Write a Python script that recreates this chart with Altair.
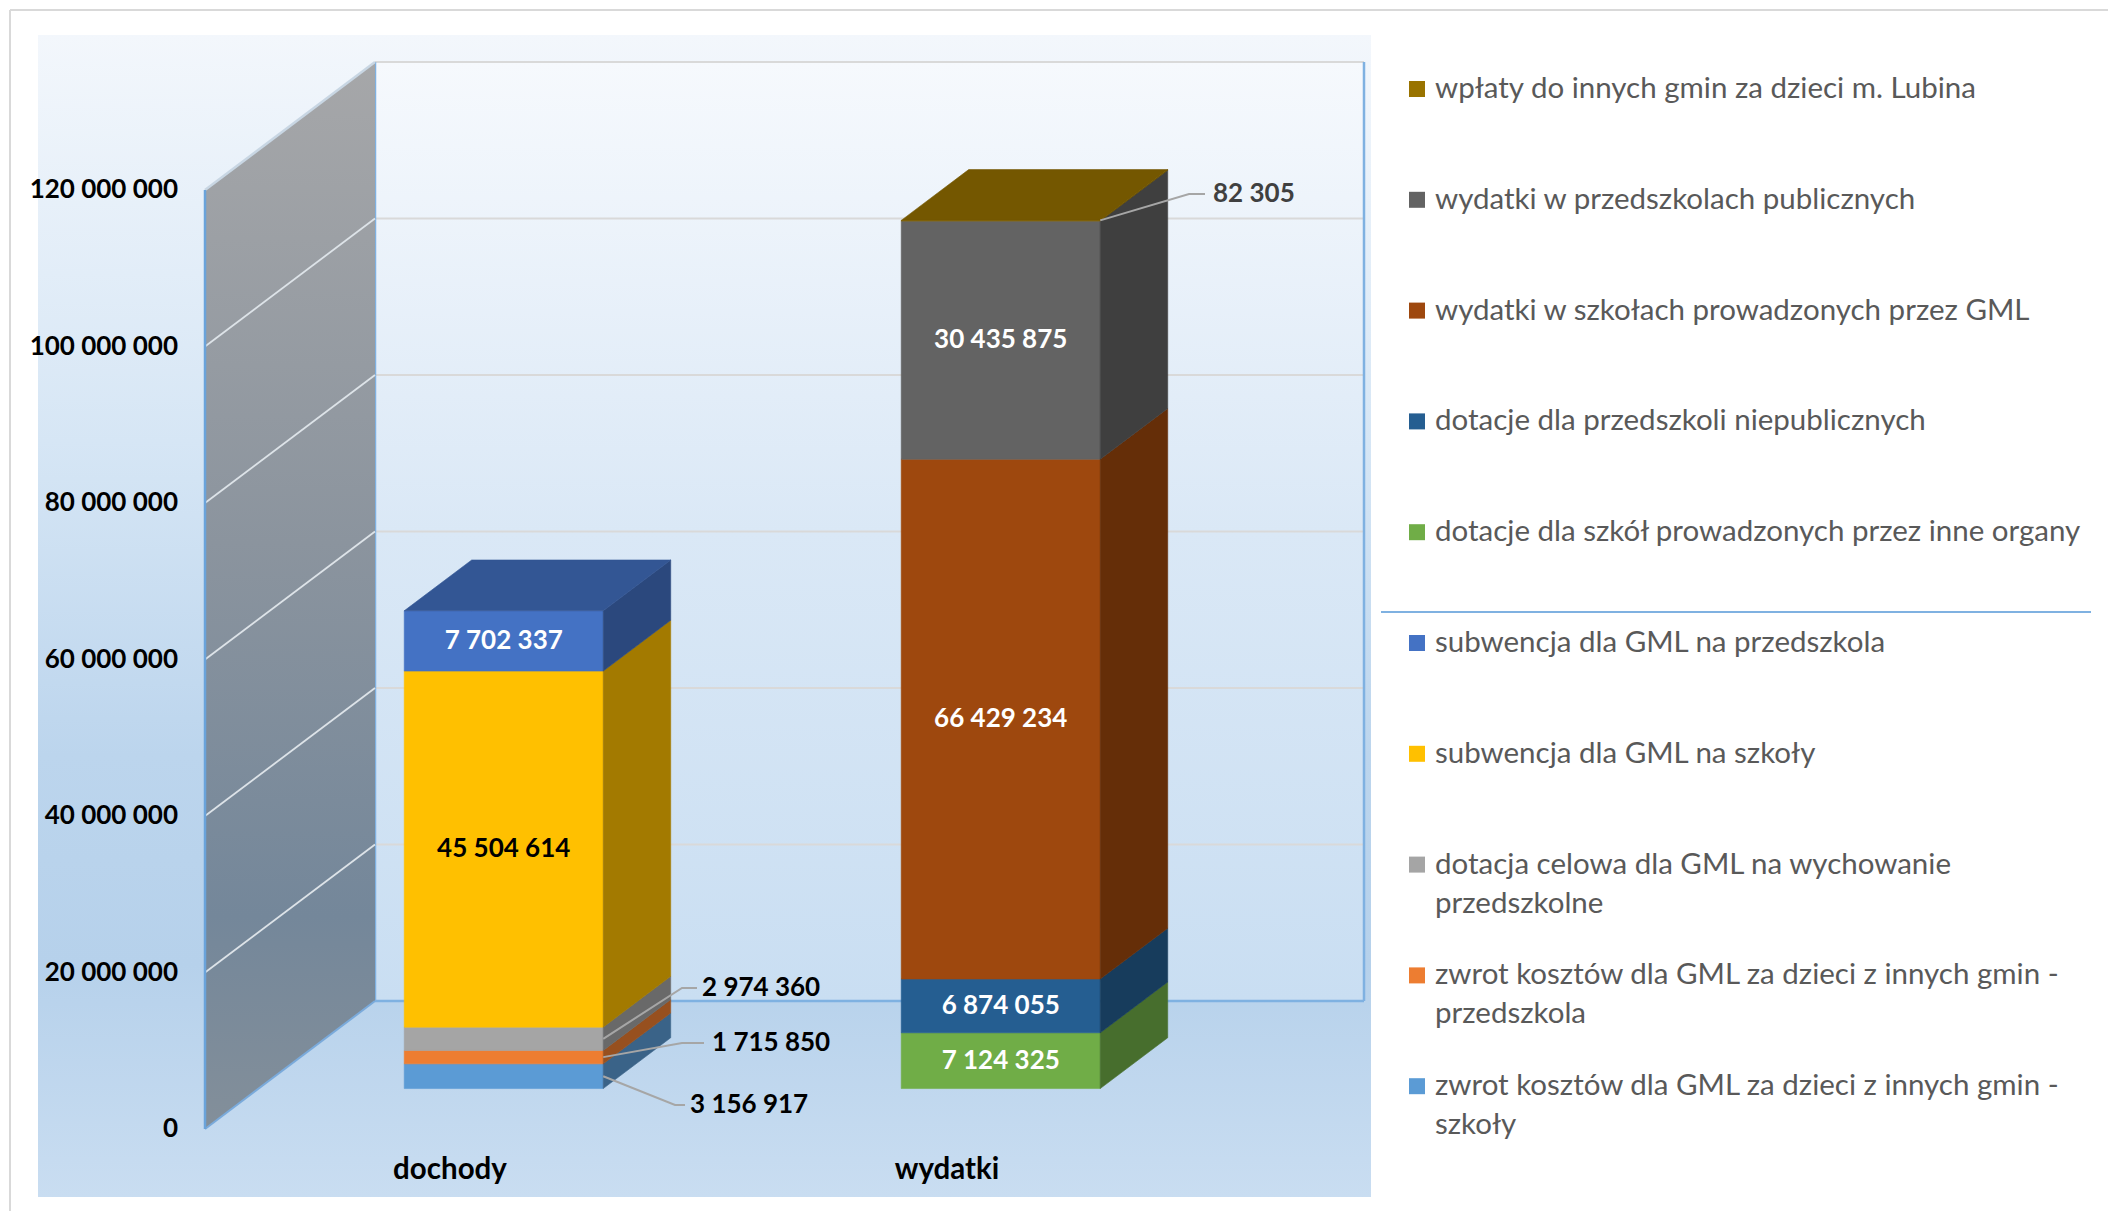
import altair as alt
import pandas as pd

# ---------------- data ----------------
categories = ["dochody", "wydatki"]

dochody_series = [
    "zwrot kosztów dla GML za dzieci z innych gmin - szkoły",
    "zwrot kosztów dla GML za dzieci z innych gmin - przedszkola",
    "dotacja celowa dla GML na wychowanie przedszkolne",
    "subwencja dla GML na szkoły",
    "subwencja dla GML na przedszkola",
]
dochody_values = [3156917, 1715850, 2974360, 45504614, 7702337]

wydatki_series = [
    "dotacje dla szkół prowadzonych przez inne organy",
    "dotacje dla przedszkoli niepublicznych",
    "wydatki w szkołach prowadzonych przez GML",
    "wydatki w przedszkolach publicznych",
    "wpłaty do innych gmin za dzieci m. Lubina",
]
wydatki_values = [7124325, 6874055, 66429234, 30435875, 82305]

series_colors = {
    "zwrot kosztów dla GML za dzieci z innych gmin - szkoły": "#5B9BD5",
    "zwrot kosztów dla GML za dzieci z innych gmin - przedszkola": "#ED7D31",
    "dotacja celowa dla GML na wychowanie przedszkolne": "#A5A5A5",
    "subwencja dla GML na szkoły": "#FFC000",
    "subwencja dla GML na przedszkola": "#4472C4",
    "dotacje dla szkół prowadzonych przez inne organy": "#70AD47",
    "dotacje dla przedszkoli niepublicznych": "#255E91",
    "wydatki w szkołach prowadzonych przez GML": "#9E480E",
    "wydatki w przedszkolach publicznych": "#636363",
    "wpłaty do innych gmin za dzieci m. Lubina": "#997300",
}

legend_text = {
    "dotacja celowa dla GML na wychowanie przedszkolne": "dotacja celowa dla GML na wychowanie\nprzedszkolne",
    "zwrot kosztów dla GML za dzieci z innych gmin - przedszkola": "zwrot kosztów dla GML za dzieci z innych gmin -\nprzedszkola",
    "zwrot kosztów dla GML za dzieci z innych gmin - szkoły": "zwrot kosztów dla GML za dzieci z innych gmin -\nszkoły",
}

y_ticks = [0, 20000000, 40000000, 60000000, 80000000, 100000000, 120000000]

# label colour for values drawn on the bar face
inside_label_color = {
    "subwencja dla GML na przedszkola": "#FFFFFF",
    "subwencja dla GML na szkoły": "#000000",
    "dotacje dla szkół prowadzonych przez inne organy": "#FFFFFF",
    "dotacje dla przedszkoli niepublicznych": "#FFFFFF",
    "wydatki w szkołach prowadzonych przez GML": "#FFFFFF",
    "wydatki w przedszkolach publicznych": "#FFFFFF",
}
# labels placed outside with leader lines: (elbow x, end x, text x, text y) in page px
outside_labels = {
    "dotacja celowa dla GML na wychowanie przedszkolne": (682, 697, 702, 987, "#000000", "mid"),
    "zwrot kosztów dla GML za dzieci z innych gmin - przedszkola": (682, 704, 712, 1042, "#000000", "mid"),
    "zwrot kosztów dla GML za dzieci z innych gmin - szkoły": (675, 685, 690, 1104, "#000000", "mid"),
    "wpłaty do innych gmin za dzieci m. Lubina": (1189, 1205, 1213, 193, "#404040", "top"),
}

# ---------------- geometry (layout) ----------------
PX_PER_M = 7.825          # pixels per million on the front plane
Y0_PAGE = 1128            # page y of value 0 on the front plane
DX = 170                  # depth vector, x pixels
DV = 128 / PX_PER_M       # depth vector, in millions
T_FRONT, T_BACK = 0.316, 0.713
BAR_W = 199
CAT0, CAT_STEP = 450, 497
WALL_X = 205
BACK_RIGHT = 1364
WALL_TOP = 120


def v_of(y_page):
    return (Y0_PAGE - y_page) / PX_PER_M


def shade(hexcol, f):
    return "#%02x%02x%02x" % tuple(min(255, int(int(hexcol[i:i + 2], 16) * f)) for i in (1, 3, 5))


def fmt(v):
    return f"{v:,}".replace(",", " ")


xs = alt.Scale(domain=[8, 2108])
ys = alt.Scale(domain=[v_of(1210), v_of(8)])


def X(f):
    return alt.X(f, type="quantitative", scale=xs, axis=None)


def Y(f):
    return alt.Y(f, type="quantitative", scale=ys, axis=None)


FONT = "Lato"

# ---------------- background ----------------
bg = alt.Chart(pd.DataFrame({"x": [38], "x2": [1371], "y": [v_of(34)], "y2": [v_of(1196)]})).mark_rect(
    fill=alt.Gradient(gradient="linear", x1=0, y1=0, x2=0, y2=1, stops=[
        alt.GradientStop(color="#f3f7fc", offset=0),
        alt.GradientStop(color="#d6e6f5", offset=0.35),
        alt.GradientStop(color="#bcd5ed", offset=0.62),
        alt.GradientStop(color="#b6d1eb", offset=0.8),
        alt.GradientStop(color="#c9ddf1", offset=1),
    ])
).encode(x=X("x"), x2="x2", y=Y("y"), y2="y2")

back_wall = alt.Chart(pd.DataFrame({"x": [WALL_X + DX], "x2": [BACK_RIGHT], "y": [DV], "y2": [WALL_TOP + DV]})).mark_rect(
    fill=alt.Gradient(gradient="linear", x1=0, y1=0, x2=0, y2=1, stops=[
        alt.GradientStop(color="#f6f9fd", offset=0),
        alt.GradientStop(color="#dae8f6", offset=0.5),
        alt.GradientStop(color="#c9def2", offset=1),
    ])
).encode(x=X("x"), x2="x2", y=Y("y"), y2="y2")

grid_rows = [{"x": WALL_X + DX, "x2": BACK_RIGHT, "y": t / 1e6 + DV} for t in y_ticks[1:]]
back_grid = alt.Chart(pd.DataFrame(grid_rows)).mark_rule(color="#d9d9d9", strokeWidth=2).encode(
    x=X("x"), x2="x2", y=Y("y"))

edge_rows = [
    {"x": WALL_X + DX, "x2": BACK_RIGHT, "y": DV, "y2": DV},
    {"x": WALL_X + DX, "x2": WALL_X + DX, "y": DV, "y2": WALL_TOP + DV},
    {"x": BACK_RIGHT, "x2": BACK_RIGHT, "y": DV, "y2": WALL_TOP + DV},
]
back_edges = alt.Chart(pd.DataFrame(edge_rows)).mark_rule(color="#7fb1e1", strokeWidth=2.5).encode(
    x=X("x"), x2="x2", y=Y("y"), y2="y2")

left_wall = alt.Chart(pd.DataFrame({
    "x": [WALL_X, WALL_X + DX], "y": [0, DV], "y2": [WALL_TOP, WALL_TOP + DV]})).mark_area(
    fill=alt.Gradient(gradient="linear", x1=0, y1=0, x2=0, y2=1, stops=[
        alt.GradientStop(color="#a6a7a9", offset=0),
        alt.GradientStop(color="#8b949e", offset=0.45),
        alt.GradientStop(color="#74879a", offset=0.8),
        alt.GradientStop(color="#838f9a", offset=1),
    ])
).encode(x=X("x"), y=Y("y"), y2="y2")

lw_rows = []
for t in y_ticks:
    v = t / 1e6
    lw_rows.append({"g": t, "x": WALL_X, "y": v})
    lw_rows.append({"g": t, "x": WALL_X + DX, "y": v + DV})
lw_df = pd.DataFrame(lw_rows)
left_wall_lines = alt.Chart(lw_df[(lw_df.g > 0) & (lw_df.g < 120000000)]).mark_line(
    color="#dde3e8", strokeWidth=1.8).encode(x=X("x"), y=Y("y"), detail="g:N")
left_wall_top = alt.Chart(lw_df[lw_df.g == 120000000]).mark_line(
    color="#c8d6e3", strokeWidth=2.5).encode(x=X("x"), y=Y("y"), detail="g:N")
left_wall_bottom = alt.Chart(lw_df[lw_df.g == 0]).mark_line(
    color="#7aaadb", strokeWidth=2).encode(x=X("x"), y=Y("y"), detail="g:N")
left_front_edge = alt.Chart(pd.DataFrame({"x": [WALL_X], "y": [0], "y2": [WALL_TOP]})).mark_rule(
    color="#6aa3da", strokeWidth=2.5).encode(x=X("x"), y=Y("y"), y2="y2")

ylab = alt.Chart(pd.DataFrame({"x": [178] * len(y_ticks), "y": [t / 1e6 for t in y_ticks],
                               "t": [fmt(t) for t in y_ticks]})).mark_text(
    align="right", baseline="middle", font=FONT, fontWeight="bold", fontSize=26, color="#000000"
).encode(x=X("x"), y=Y("y"), text="t:N")

# ---------------- bars ----------------
front_rows, side_rows, top_rows, in_lab, lead_rows, out_lab = [], [], [], [], [], []
for i, (cat, ser, vals) in enumerate([(categories[0], dochody_series, dochody_values),
                                      (categories[1], wydatki_series, wydatki_values)]):
    xl = CAT0 + i * CAT_STEP - BAR_W / 2
    xr = xl + BAR_W
    base = 0.0
    for s, val in zip(ser, vals):
        v0, v1 = base, base + val / 1e6
        base = v1
        col = series_colors[s]
        seg = f"{cat}|{s}"
        front_rows.append({"x": xl + DX * T_FRONT, "x2": xr + DX * T_FRONT,
                           "y": v0 + DV * T_FRONT, "y2": v1 + DV * T_FRONT, "c": col})
        for t in (T_FRONT, T_BACK):
            side_rows.append({"seg": seg, "x": xr + DX * t, "y": v0 + DV * t, "y2": v1 + DV * t,
                              "c": shade(col, 0.64)})
        if s in inside_label_color:
            in_lab.append({"x": (xl + xr) / 2 + DX * T_FRONT, "y": (v0 + v1) / 2 + DV * T_FRONT,
                           "t": fmt(val), "c": inside_label_color[s]})
        if s in outside_labels:
            ex, endx, tx, ty, tc, anchor = outside_labels[s]
            sv = ((v0 + v1) / 2 if anchor == "mid" else v1) + DV * T_FRONT
            for k, (px, pv) in enumerate([(xr + DX * T_FRONT, sv), (ex, v_of(ty)), (endx, v_of(ty))]):
                lead_rows.append({"seg": seg, "k": k, "x": px, "y": pv})
            out_lab.append({"x": tx, "y": v_of(ty), "t": fmt(val), "c": tc})
    top_col = shade(series_colors[ser[-1]], 0.76)
    tf, tb = base + DV * T_FRONT, base + DV * T_BACK
    for px, lo, hi in [(xl + DX * T_FRONT, tf, tf), (xl + DX * T_BACK, tf, tb),
                       (xr + DX * T_FRONT, tf, tb), (xr + DX * T_BACK, tb, tb)]:
        top_rows.append({"seg": cat, "x": px, "y": lo, "y2": hi, "c": top_col})

front = alt.Chart(pd.DataFrame(front_rows)).mark_rect(strokeWidth=0.6).encode(
    x=X("x"), x2="x2", y=Y("y"), y2="y2",
    fill=alt.Fill("c:N", scale=None), stroke=alt.Stroke("c:N", scale=None))
side = alt.Chart(pd.DataFrame(side_rows)).mark_area(strokeWidth=0.6).encode(
    x=X("x"), y=Y("y"), y2="y2", detail="seg:N",
    fill=alt.Fill("c:N", scale=None), stroke=alt.Stroke("c:N", scale=None))
top = alt.Chart(pd.DataFrame(top_rows)).mark_area(strokeWidth=0.6).encode(
    x=X("x"), y=Y("y"), y2="y2", detail="seg:N",
    fill=alt.Fill("c:N", scale=None), stroke=alt.Stroke("c:N", scale=None))

inside_labels = alt.Chart(pd.DataFrame(in_lab)).mark_text(
    align="center", baseline="middle", font=FONT, fontWeight="bold", fontSize=26).encode(
    x=X("x"), y=Y("y"), text="t:N", color=alt.Color("c:N", scale=None))

leaders = alt.Chart(pd.DataFrame(lead_rows)).mark_line(color="#a6a6a6", strokeWidth=2).encode(
    x=X("x"), y=Y("y"), detail="seg:N", order="k:Q")

outside = alt.Chart(pd.DataFrame(out_lab)).mark_text(
    align="left", baseline="middle", font=FONT, fontWeight="bold", fontSize=26).encode(
    x=X("x"), y=Y("y"), text="t:N", color=alt.Color("c:N", scale=None))

cat_labels = alt.Chart(pd.DataFrame({"x": [CAT0 + i * CAT_STEP for i in range(len(categories))],
                                     "y": [v_of(1169)] * len(categories), "t": categories})).mark_text(
    align="center", baseline="middle", font=FONT, fontWeight="bold", fontSize=29.5, color="#000000").encode(
    x=X("x"), y=Y("y"), text="t:N")

# ---------------- legend ----------------
legend_order = list(reversed(wydatki_series)) + list(reversed(dochody_series))
LEG_Y0, LEG_STEP, LEG_LINE = 88, 110.8, 39
mk_rows, lt_rows = [], []
for i, s in enumerate(legend_order):
    yc = LEG_Y0 + LEG_STEP * i
    mk_rows.append({"x": 1417, "y": v_of(yc), "c": series_colors[s]})
    for k, line in enumerate(legend_text.get(s, s).split("\n")):
        lt_rows.append({"x": 1435, "y": v_of(yc + LEG_LINE * k), "t": line})

leg_marks = alt.Chart(pd.DataFrame(mk_rows)).mark_square(size=256, opacity=1).encode(
    x=X("x"), y=Y("y"), fill=alt.Fill("c:N", scale=None))
leg_text = alt.Chart(pd.DataFrame(lt_rows)).mark_text(
    align="left", baseline="middle", font=FONT, fontSize=29.5, color="#595959").encode(
    x=X("x"), y=Y("y"), text="t:N")
leg_sep = alt.Chart(pd.DataFrame({"x": [1381], "x2": [2091], "y": [v_of(611)]})).mark_rule(
    color="#7fb1e1", strokeWidth=2).encode(x=X("x"), x2="x2", y=Y("y"))

border = alt.Chart(pd.DataFrame({"x": [10, 10], "x2": [2108, 10], "y": [v_of(9), v_of(9)],
                                 "y2": [v_of(9), v_of(1210)]})).mark_rule(
    color="#d9d9d9", strokeWidth=2).encode(x=X("x"), x2="x2", y=Y("y"), y2="y2")

chart = alt.layer(
    bg, back_wall, back_grid, back_edges, left_wall, left_wall_lines, left_wall_top, left_wall_bottom,
    left_front_edge, ylab, front, side, top, inside_labels, leaders, outside, cat_labels,
    leg_sep, leg_marks, leg_text, border
).properties(width=2100, height=1202, padding=0, background="white").configure_view(stroke=None)

chart.save("out.html", embed_options={"renderer": "svg", "actions": False})
